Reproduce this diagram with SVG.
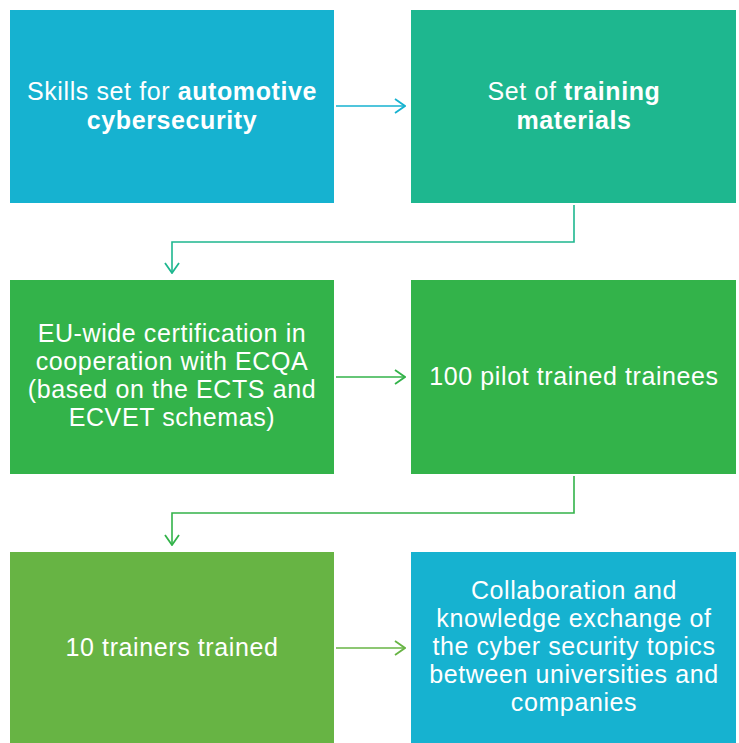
<svg xmlns="http://www.w3.org/2000/svg" width="739" height="743" viewBox="0 0 739 743">
<style>
.t{font-family:"Liberation Sans",Arial,sans-serif;font-size:25px;letter-spacing:0.6px;fill:#ffffff;text-anchor:middle}
.b{font-weight:bold}
.c{fill:none;stroke-width:1.6}
</style>
<defs>
<marker id="ab" viewBox="0 0 12 16" refX="11" refY="8" markerWidth="12" markerHeight="16" markerUnits="userSpaceOnUse" orient="auto"><path d="M1,1 L11,8 L1,15" fill="none" stroke="#16b2d0" stroke-width="1.8"/></marker>
<marker id="at" viewBox="0 0 12 16" refX="11" refY="8" markerWidth="12" markerHeight="16" markerUnits="userSpaceOnUse" orient="auto"><path d="M1,1 L11,8 L1,15" fill="none" stroke="#1eb78f" stroke-width="1.8"/></marker>
<marker id="ag" viewBox="0 0 12 16" refX="11" refY="8" markerWidth="12" markerHeight="16" markerUnits="userSpaceOnUse" orient="auto"><path d="M1,1 L11,8 L1,15" fill="none" stroke="#33b34a" stroke-width="1.8"/></marker>
<marker id="al" viewBox="0 0 12 16" refX="11" refY="8" markerWidth="12" markerHeight="16" markerUnits="userSpaceOnUse" orient="auto"><path d="M1,1 L11,8 L1,15" fill="none" stroke="#67b444" stroke-width="1.8"/></marker>
</defs>
<g id="n1"><rect x="10" y="10" width="324" height="193" fill="#16b2d0"/>
<text class="t" x="172" y="100">Skills set for <tspan class="b">automotive</tspan></text>
<text class="t b" x="172" y="129">cybersecurity</text></g>
<g id="n2"><rect x="411" y="10" width="325" height="193" fill="#1eb78f"/>
<text class="t" x="574" y="100">Set of <tspan class="b">training</tspan></text>
<text class="t b" x="574" y="129">materials</text></g>
<g id="n3"><rect x="10" y="280" width="324" height="194" fill="#33b34a"/>
<text class="t" x="172" y="342">EU-wide certification in</text>
<text class="t" x="172" y="370">cooperation with ECQA</text>
<text class="t" x="172" y="398">(based on the ECTS and</text>
<text class="t" x="172" y="426">ECVET schemas)</text></g>
<g id="n4"><rect x="411" y="280" width="325" height="194" fill="#33b34a"/>
<text class="t" x="574" y="385">100 pilot trained trainees</text></g>
<g id="n5"><rect x="10" y="552" width="324" height="191" fill="#67b444"/>
<text class="t" x="172" y="656">10 trainers trained</text></g>
<g id="n6"><rect x="411" y="552" width="325" height="191" fill="#16b2d0"/>
<text class="t" x="574" y="599">Collaboration and</text>
<text class="t" x="574" y="627">knowledge exchange of</text>
<text class="t" x="574" y="655">the cyber security topics</text>
<text class="t" x="574" y="683">between universities and</text>
<text class="t" x="574" y="711">companies</text></g>
<g id="connectors">
<path class="c" d="M336,106 H405" stroke="#16b2d0" marker-end="url(#ab)"/>
<path class="c" d="M574,205 V242 H172 V273" stroke="#1eb78f" marker-end="url(#at)"/>
<path class="c" d="M336,377 H405" stroke="#33b34a" marker-end="url(#ag)"/>
<path class="c" d="M574,476 V513 H172 V545" stroke="#33b34a" marker-end="url(#ag)"/>
<path class="c" d="M336,648 H405" stroke="#67b444" marker-end="url(#al)"/>
</g>
</svg>
